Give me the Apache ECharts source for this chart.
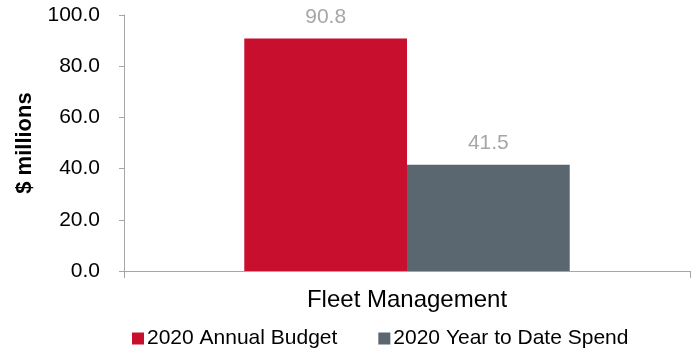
<!DOCTYPE html>
<html><head><meta charset="utf-8">
<script src="https://cdn.jsdelivr.net/npm/echarts@6/dist/echarts.min.js"></script>
<style>html,body{margin:0;padding:0;background:#fff}#c{width:700px;height:356px}</style>
</head><body><div id="c"></div>
<script>
var categories = ['Fleet Management'];
var seriesNames = ['2020 Annual Budget', '2020 Year to Date Spend'];
var budget = [90.8];
var ytdSpend = [41.5];
var colors = ['#C8102E', '#5B6770'];
var font = '"Liberation Sans", Arial, sans-serif';
var chart = echarts.init(document.getElementById('c'));
var lbl = {show: true, position: 'top', distance: 11, color: '#A6A6A6', fontSize: 21, fontFamily: font,
  formatter: function(p){ return p.value.toFixed(1); }};
chart.setOption({
  animation: false,
  grid: {left: 124, right: 10, top: 15, bottom: 85},
  legend: {bottom: 2, left: 127, itemWidth: 12, itemHeight: 12, itemGap: 41, icon: 'rect',
    textStyle: {fontSize: 21, fontFamily: font, color: '#000', padding: [0,0,0,-2]},
    data: seriesNames},
  xAxis: {type: 'category', data: categories,
    axisLine: {lineStyle: {color: '#A6A6A6'}},
    axisTick: {show: true, alignWithLabel: false, length: 7, lineStyle: {color: '#A6A6A6'}},
    axisLabel: {fontSize: 24, fontFamily: font, color: '#000', margin: 17}},
  yAxis: {type: 'value', min: 0, max: 100, interval: 20,
    name: '$ millions', nameLocation: 'middle', nameGap: 88,
    nameTextStyle: {fontSize: 22, fontWeight: 'bold', fontFamily: font, color: '#000'},
    axisLine: {show: true, lineStyle: {color: '#A6A6A6'}},
    axisTick: {show: true, length: 5, lineStyle: {color: '#A6A6A6'}},
    splitLine: {show: false},
    axisLabel: {fontSize: 21, fontFamily: font, color: '#000', margin: 24,
      formatter: function(v){ return v.toFixed(1); }}},
  series: [
    {name: seriesNames[0], type: 'bar', data: budget, itemStyle: {color: colors[0]},
     barGap: 0, barCategoryGap: '42.5%', label: lbl},
    {name: seriesNames[1], type: 'bar', data: ytdSpend, itemStyle: {color: colors[1]},
     barGap: 0, barCategoryGap: '42.5%', label: lbl}
  ]
});
</script></body></html>
